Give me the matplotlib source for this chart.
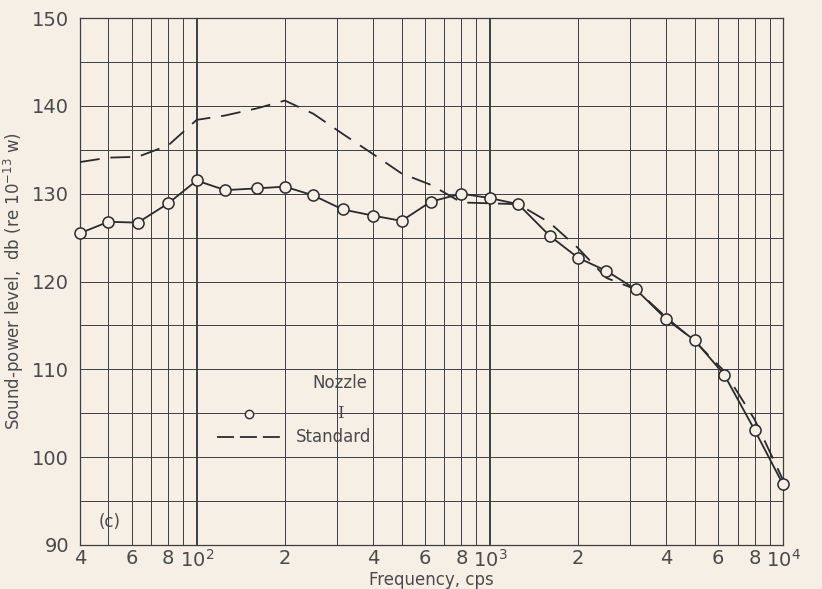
import numpy as np
import matplotlib
matplotlib.use("Agg")
import matplotlib.pyplot as plt
from matplotlib.ticker import FixedLocator, NullLocator

# One-third-octave band centre frequencies, cps
freq = [40, 50, 63, 80, 100, 125, 160, 200, 250, 315, 400, 500, 630, 800,
        1000, 1250, 1600, 2000, 2500, 3150, 4000, 5000, 6300, 8000, 10000]

# Sound-power level, db (re 1e-13 w)
nozzle_i = [125.5, 126.8, 126.7, 128.9, 131.5, 130.4, 130.6, 130.8, 129.8,
            128.2, 127.5, 126.9, 129.1, 130.0, 129.5, 128.8, 125.2, 122.7,
            121.2, 119.1, 115.7, 113.3, 109.4, 103.1, 96.9]
standard = [133.6, 134.1, 134.2, 135.5, 138.4, 138.9, 139.7, 140.6, 139.1,
            136.8, 134.5, 132.3, 131.0, 129.0, 128.9, 128.8, 126.7, 123.8,
            120.4, 119.1, 115.9, 113.2, 109.8, 104.3, 97.4]

y_ticks = [90, 100, 110, 120, 130, 140, 150]
x_tick_pos = [40, 60, 80, 100, 200, 400, 600, 800, 1000, 2000, 4000, 6000,
              8000, 10000]
x_tick_lbl = ["4", "6", "8", "$10^2$", "2", "4", "6", "8", "$10^3$", "2",
              "4", "6", "8", "$10^4$"]

paper = "#f6efe5"
ink = "#3e3e3e"
txt = "#4a4a4a"

plt.rcParams["font.family"] = ["DejaVu Sans"]
plt.rcParams["mathtext.default"] = "regular"

fig = plt.figure(figsize=(8.22, 5.89), dpi=100, facecolor=paper)
ax = fig.add_axes([80 / 822, 44 / 589, 703 / 822, 527 / 589])
ax.set_facecolor(paper)
ax.set_xscale("log")
ax.set_xlim(40, 10000)
ax.set_ylim(90, 150)

# Graph-paper grid: every integer multiple on the log axis, every 5 db vertically
minor_x = [m * 10 ** e for e in (1, 2, 3) for m in range(1, 10)
           if 40 <= m * 10 ** e <= 10000]
for xv in minor_x:
    heavy = xv in (100, 1000)
    ax.axvline(xv, color=ink, lw=1.4 if heavy else 0.7, zorder=1)
for yv in np.arange(90, 151, 5):
    ax.axhline(yv, color=ink, lw=0.7, zorder=1)

ax.plot(freq, standard, color="#2a2a2a", lw=1.3, dashes=(11, 6), zorder=3)
ax.plot(freq, nozzle_i, color="#2a2a2a", lw=1.3, marker="o", ms=8,
        mfc=paper, mec="#2a2a2a", mew=1.1, zorder=4, clip_on=False)

for s in ax.spines.values():
    s.set_color(ink)
    s.set_linewidth(0.9)

ax.xaxis.set_major_locator(FixedLocator(x_tick_pos))
ax.xaxis.set_minor_locator(NullLocator())
ax.set_xticklabels(x_tick_lbl)
ax.set_yticks(y_ticks)
ax.tick_params(axis="both", length=0, labelsize=14, colors=txt)
ax.tick_params(axis="x", pad=3)
ax.tick_params(axis="y", pad=8)

ax.set_xlabel("Frequency, cps", fontsize=12, color=txt, labelpad=0)
ax.set_ylabel("Sound-power level,  db (re $10^{-13}$ w)", fontsize=12,
              color=txt, labelpad=4)

# Key
tr = ax.transAxes
def axpt(px, py):
    return ((px - 80) / 703, (545 - py) / 527)

ax.text(*axpt(340, 383), "Nozzle", transform=tr, ha="center", va="center",
        fontsize=12, color=txt)
ax.plot(*axpt(249, 414), transform=tr, marker="o", ms=6, mfc=paper,
        mec="#2a2a2a", mew=1.0, ls="none")
ax.text(*axpt(340, 414), "I", transform=tr, ha="center", va="center",
        fontsize=12, color=txt, family=["DejaVu Serif"])
x0, yl = axpt(217, 437)
x1, _ = axpt(280, 437)
ax.plot([x0, x1], [yl, yl], transform=tr, color="#2a2a2a", lw=1.3,
        dashes=(9.4, 3.3))
ax.text(*axpt(296, 437), "Standard", transform=tr, ha="left", va="center",
        fontsize=12, color=txt)
ax.text(*axpt(110, 522), "(c)", transform=tr, ha="center", va="center",
        fontsize=12, color=txt)

fig.savefig("out.png", dpi=100, facecolor=paper)
